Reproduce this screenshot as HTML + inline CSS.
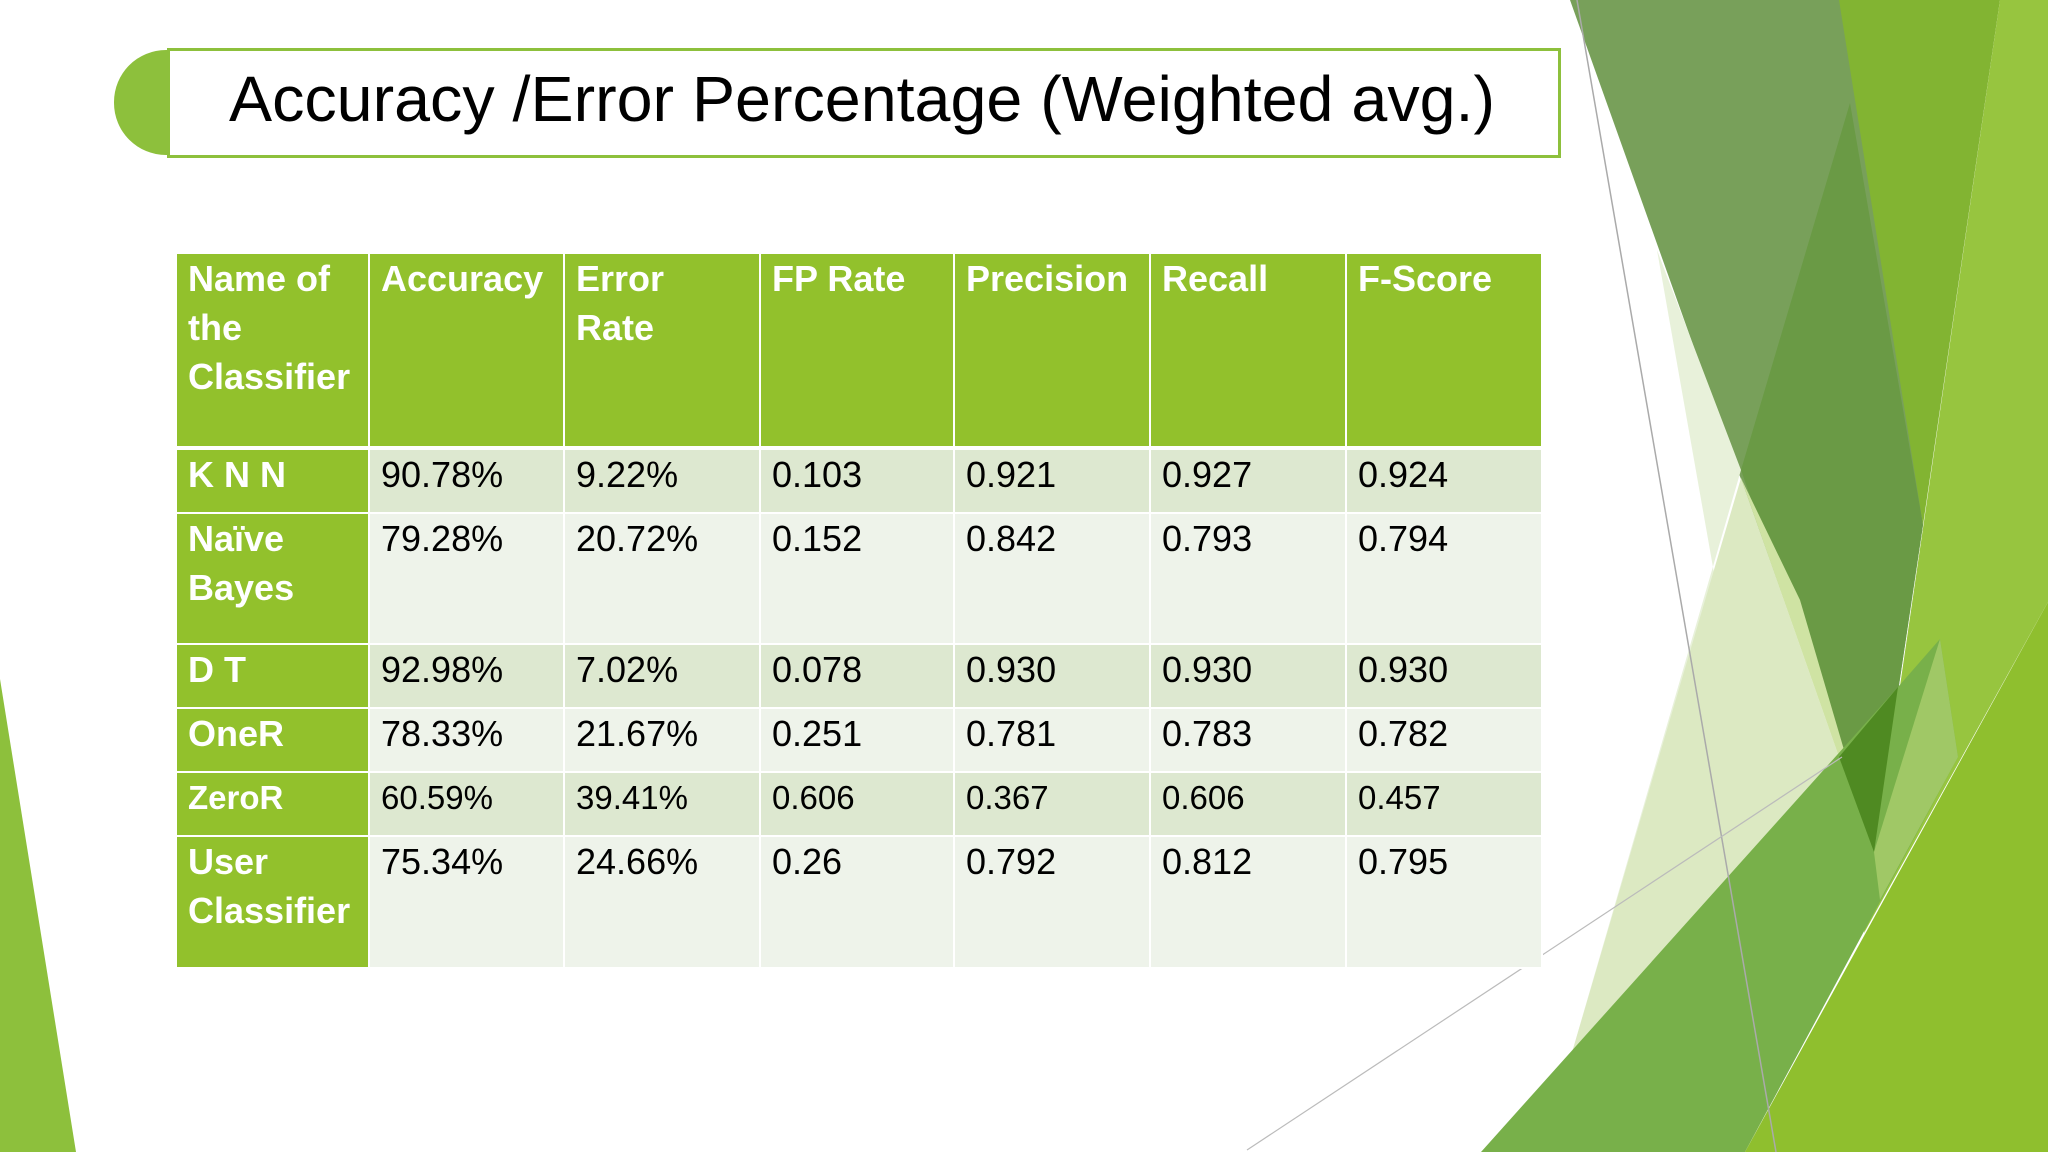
<!DOCTYPE html>
<html><head><meta charset="utf-8">
<style>
html,body{margin:0;padding:0;}
body{width:2048px;height:1152px;position:relative;overflow:hidden;background:#fff;font-family:"Liberation Sans",sans-serif;}
#bg{position:absolute;left:0;top:0;}
#title-box{position:absolute;left:167px;top:48px;width:1388px;height:104px;border:3px solid #8DC03C;background:#fff;box-sizing:content-box;}
#title-cap{position:absolute;left:114px;top:50px;width:56px;height:105px;background:#8DC03C;border-radius:52px 0 0 52px/52px 0 0 52px;}
table{position:absolute;left:175px;top:252px;border-collapse:collapse;table-layout:fixed;width:1366px;}
td{border:2px solid #fff;vertical-align:top;padding:0 0 0 11px;font-size:36px;line-height:49px;color:#000;box-sizing:border-box;overflow:hidden;white-space:nowrap;}
tr.hdr td{background:#92C12C;color:#fff;font-weight:bold;height:195px;border-bottom:4px solid #fff;}
td.name{background:#92C12C;color:#fff;font-weight:bold;}
tr.odd td:not(.name){background:#DDE8D0;}
tr.even td:not(.name){background:#EEF3EA;}
</style></head>
<body>
<svg id="bg" width="2048" height="1152">
 <polygon points="0,679 76,1152 0,1152" fill="#8DC03C"/>
 <polygon points="1570,0 1853,0 1923,525 1874,852" fill="#78A05A"/>
 <polygon points="1839,0 2000,0 1923,525" fill="#82B432"/>
 <polygon points="2000,0 2048,0 2048,602 1864,933" fill="#97C53F"/>
 <polygon points="1741,470 1850,103 1923,525 1874,852" fill="#6A9A45"/>
 <polygon points="1657,250 1741,470 1566,1073 1520,1152 1762,845" fill="#E8F1DA"/>
 <polygon points="1566,1073 1741,478 1839,757" fill="#DCE9C2"/>
 <polygon points="1741,478 1839,757 1874,852 1800,600" fill="#CFE3A3"/>
 <polygon points="1481,1152 1898,687 1940,639 1958,757 1745,1152" fill="#78B04A"/>
 <polygon points="1839,757 1898,687 1874,852" fill="#4F8A22"/>
 <polygon points="1874,852 1940,639 1958,757 1880,900" fill="#A0C866"/>
 <polygon points="1745,1152 2048,602 2048,1152" fill="#8FBF2E"/>
 <line x1="1577" y1="0" x2="1776" y2="1152" stroke="#aaa" stroke-width="1.5"/>
 <line x1="1247" y1="1150" x2="1842" y2="757" stroke="#bbb" stroke-width="1.2"/>
</svg>
<div id="title-cap"></div>
<div id="title-box"></div>
<svg style="position:absolute;left:0;top:0" width="2048" height="200">
 <text x="229" y="121" font-family="Liberation Sans, sans-serif" font-size="64" textLength="1266" lengthAdjust="spacingAndGlyphs" fill="#000">Accuracy /Error Percentage (Weighted avg.)</text>
</svg>
<table>
 <colgroup><col style="width:193px"><col style="width:195px"><col style="width:196px"><col style="width:194px"><col style="width:196px"><col style="width:196px"><col style="width:196px"></colgroup>
 <tr class="hdr"><td>Name of<br>the<br>Classifier</td><td>Accuracy</td><td>Error<br>Rate</td><td>FP Rate</td><td>Precision</td><td>Recall</td><td>F-Score</td></tr>
 <tr class="odd" style="height:65px"><td class="name">K N N</td><td>90.78%</td><td>9.22%</td><td>0.103</td><td>0.921</td><td>0.927</td><td>0.924</td></tr>
 <tr class="even" style="height:131px"><td class="name">Naïve<br>Bayes</td><td>79.28%</td><td>20.72%</td><td>0.152</td><td>0.842</td><td>0.793</td><td>0.794</td></tr>
 <tr class="odd" style="height:64px"><td class="name">D T</td><td>92.98%</td><td>7.02%</td><td>0.078</td><td>0.930</td><td>0.930</td><td>0.930</td></tr>
 <tr class="even" style="height:64px"><td class="name">OneR</td><td>78.33%</td><td>21.67%</td><td>0.251</td><td>0.781</td><td>0.783</td><td>0.782</td></tr>
 <tr class="odd" style="height:64px"><td class="name" style="font-size:33px">ZeroR</td><td style="font-size:33px">60.59%</td><td style="font-size:33px">39.41%</td><td style="font-size:33px">0.606</td><td style="font-size:33px">0.367</td><td style="font-size:33px">0.606</td><td style="font-size:33px">0.457</td></tr>
 <tr class="even" style="height:132px"><td class="name">User<br>Classifier</td><td>75.34%</td><td>24.66%</td><td>0.26</td><td>0.792</td><td>0.812</td><td>0.795</td></tr>
</table>
</body></html>
